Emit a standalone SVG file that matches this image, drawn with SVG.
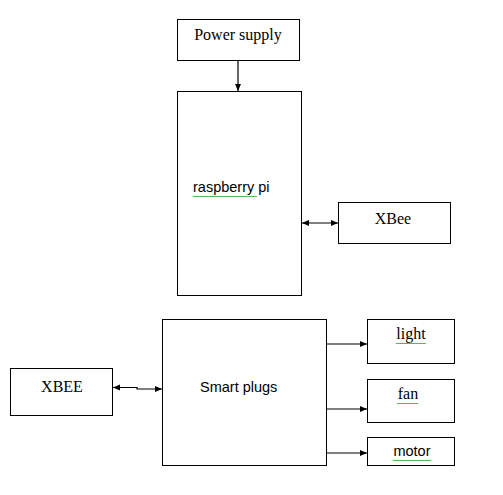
<svg xmlns="http://www.w3.org/2000/svg" width="503" height="495" viewBox="0 0 503 495">
<defs>
<marker id="ah" markerWidth="8" markerHeight="8" refX="7" refY="4" orient="auto-start-reverse" markerUnits="userSpaceOnUse">
<path d="M0,1 L7,4 L0,7 Z" fill="#000"/>
</marker>
<pattern id="wavy" width="4" height="3" patternUnits="userSpaceOnUse">
<path d="M0,2 L1,1 L2,2 L3,1 L4,2" fill="none" stroke="#3a9a3a" stroke-width="0.8"/>
</pattern>
</defs>
<style>
.box{fill:#fff;stroke:#000;stroke-width:1}
.serif{font-family:"Liberation Serif","Times New Roman",serif;font-size:16px;fill:#000}
.sans{font-family:"Liberation Sans",Arial,sans-serif;font-size:14.5px;fill:#000}
.conn{stroke:#000;stroke-width:1.2;fill:none}
</style>
<rect width="503" height="495" fill="#fff"/>
<g id="power-supply">
<rect class="box" x="177.5" y="19.5" width="122" height="41"/>
<text class="serif" x="238" y="40" text-anchor="middle">Power supply</text>
</g>
<g id="raspberry-pi">
<rect class="box" x="177.5" y="91.5" width="124" height="204"/>
<text class="sans" x="193" y="192">raspberry pi</text>
<rect x="193" y="195" width="64" height="3" fill="url(#wavy)"/>
</g>
<g id="xbee-top">
<rect class="box" x="338.5" y="202.5" width="112" height="41"/>
<text class="serif" x="393" y="224" text-anchor="middle">XBee</text>
</g>
<g id="xbee-bottom">
<rect class="box" x="10.5" y="368.5" width="102" height="47"/>
<text class="serif" x="62" y="392" text-anchor="middle">XBEE</text>
</g>
<g id="smart-plugs">
<rect class="box" x="162.5" y="319.5" width="164" height="146"/>
<text class="sans" x="200" y="392">Smart plugs</text>
</g>
<g id="light">
<rect class="box" x="367.5" y="319.5" width="87" height="44"/>
<text class="serif" x="411" y="339" text-anchor="middle">light</text>
<rect x="396" y="341" width="30" height="3" fill="url(#wavy)"/>
</g>
<g id="fan">
<rect class="box" x="367.5" y="379.5" width="87" height="43"/>
<text class="serif" x="408" y="399" text-anchor="middle">fan</text>
<rect x="397" y="401" width="21" height="3" fill="url(#wavy)"/>
</g>
<g id="motor">
<rect class="box" x="367.5" y="437.5" width="87" height="28"/>
<text class="sans" x="412" y="456" text-anchor="middle">motor</text>
<rect x="393" y="458" width="38" height="3" fill="url(#wavy)"/>
</g>
<g id="connectors">
<path class="conn" d="M238,61 L238,91" marker-end="url(#ah)"/>
<path class="conn" d="M302,223 L338,223" marker-start="url(#ah)" marker-end="url(#ah)"/>
<path class="conn" d="M113,387.5 L137,387.5 L137,389 L162,389" marker-start="url(#ah)" marker-end="url(#ah)"/>
<path class="conn" d="M327,344 L367,344" marker-end="url(#ah)"/>
<path class="conn" d="M327,409 L367,409" marker-end="url(#ah)"/>
<path class="conn" d="M327,453 L367,453" marker-end="url(#ah)"/>
</g>
</svg>
